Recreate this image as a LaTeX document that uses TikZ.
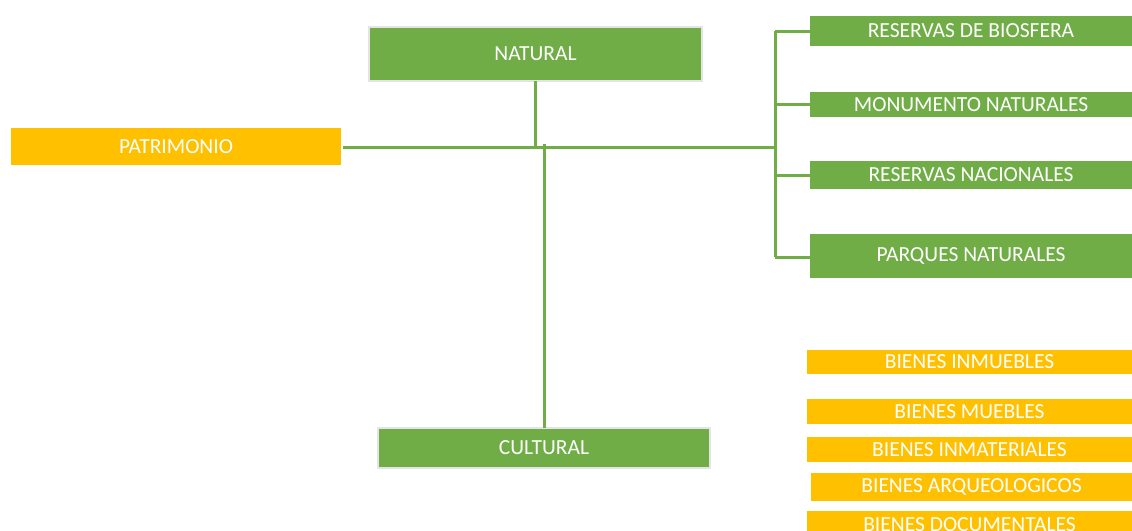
\documentclass[tikz,border=0pt]{standalone}
\usepackage{fontspec}
\setmainfont{Carlito}
\definecolor{gfill}{HTML}{70AD47}
\definecolor{yfill}{HTML}{FFC000}
\definecolor{gedge}{HTML}{E4E4E4}
\begin{document}
\begin{tikzpicture}[x=1pt,y=-1pt,
  base/.style={inner sep=0pt, outer sep=0pt, text=white, font=\fontsize{21.5}{24}\selectfont},
  gbox/.style={base, fill=gfill},
  gboxb/.style={base, fill=gfill, draw=gedge, line width=2pt},
  ybox/.style={base, fill=yfill},
  link/.style={draw=gfill, line width=3pt}]
\useasboundingbox (0,0) rectangle (1132,530);
\begin{scope}
\clip (0,0) rectangle (1132,530);
% main boxes
\node[ybox, minimum width=330, minimum height=37] (pat) at (176,146.5) {PATRIMONIO};
\node[gboxb, minimum width=333, minimum height=54] (nat) at (535.5,54) {NATURAL};
\node[gboxb, minimum width=332, minimum height=40] (cul) at (544,448) {CULTURAL};
% right green boxes
\node[gbox, minimum width=322, minimum height=30] (rb) at (971,31) {RESERVAS DE BIOSFERA};
\node[gbox, minimum width=322, minimum height=25] (mn) at (971,104.5) {MONUMENTO NATURALES};
\node[gbox, minimum width=322, minimum height=28] (rn) at (971,175) {RESERVAS NACIONALES};
\node[gbox, minimum width=322, minimum height=44] (pn) at (971,256) {PARQUES NATURALES};
% bottom yellow boxes
\node[ybox, minimum width=325, minimum height=24] (bi) at (969.5,362) {BIENES INMUEBLES};
\node[ybox, minimum width=325, minimum height=25] (bm) at (969.5,411.5) {BIENES MUEBLES};
\node[ybox, minimum width=325, minimum height=25] (bt) at (969.5,449.5) {BIENES INMATERIALES};
\node[ybox, minimum width=321, minimum height=28] (ba) at (971.5,487) {BIENES ARQUEOLOGICOS};
\node[ybox, minimum width=325, minimum height=28] (bd) at (969.5,525) {BIENES DOCUMENTALES};
% connectors
\coordinate (j) at (775,147);
\coordinate (jt) at (775,31);
\coordinate (jb) at (775,257);
\draw[link] (pat.east) ++(2,0.5) -- (j);
\draw[link] (nat.south) -- (nat.south |- j);
\draw[link] (cul.north) -- ([yshift=3]cul.north |- j);
\draw[link] (jt) -- (jb);
\draw[link] (jt) -- (rb.west |- jt);
\draw[link] (775,104) -- (mn.west |- 0,104);
\draw[link] (775,175) -- (rn.west |- 0,175);
\draw[link] (jb) -- (pn.west |- jb);
\end{scope}
\end{tikzpicture}
\end{document}
